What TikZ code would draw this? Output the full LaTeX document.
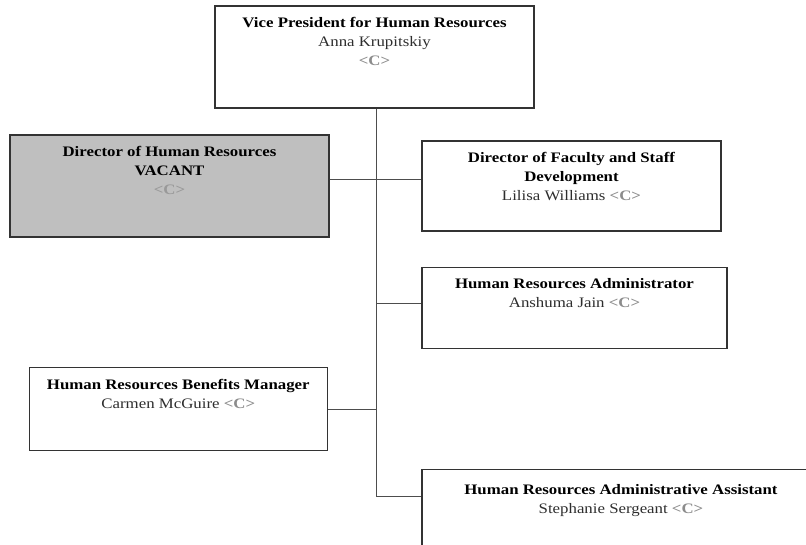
\documentclass[tikz,border=0pt]{standalone}
\usepackage{fontspec}
\setmainfont[FakeStretch=1.16]{Liberation Serif}
\usetikzlibrary{calc}

\definecolor{boxline}{HTML}{333333}
\definecolor{linkgray}{HTML}{4D4D4D}
\definecolor{vacantfill}{HTML}{BFBFBF}
\definecolor{codegray}{HTML}{8C8C8C}
\definecolor{codelight}{HTML}{999999}
\definecolor{namegray}{HTML}{2E2E2E}

\newcommand{\poscode}{\textcolor{codegray}{\textbf{<C>}}}
\newcommand{\personname}[1]{\textcolor{namegray}{#1}}

\tikzset{
  posbox/.style={draw=boxline, line width=1.4pt, fill=white, inner sep=0pt},
  vacantbox/.style={posbox, fill=vacantfill},
  postext/.style={anchor=north, inner sep=0pt, align=center,
                  font=\fontsize{14.5}{19}\selectfont},
  link/.style={draw=linkgray, line width=0.9pt},
}

\begin{document}
\begin{tikzpicture}[x=1pt, y=-1pt]
\useasboundingbox (0,0) rectangle (806,545);
\begin{scope}
\clip (0,0) rectangle (806,545);

% trunk and junction points
\coordinate (jtop)  at (376,108);
\coordinate (jdir)  at (376,179);
\coordinate (jadm)  at (376,303);
\coordinate (jben)  at (376,409);
\coordinate (jasst) at (376,496);

% connectors (drawn first, boxes cover their ends)
\path[link] (jtop) -- (jasst);

% position boxes
\node[posbox, minimum width=319pt, minimum height=102pt] (vp) at (374.5,57) {};
\node[vacantbox, minimum width=319pt, minimum height=102pt] (dhr) at (169.5,186) {};
\node[posbox, minimum width=299pt, minimum height=90pt] (dfs) at (571.5,186) {};
\node[posbox, minimum width=305pt, minimum height=81pt] (hra) at (574.5,307.8) {};
\node[posbox, minimum width=298pt, minimum height=83pt] (hrb) at (178.3,408.7) {};
\node[posbox, minimum width=398pt, minimum height=140pt] (hrs) at (621,539.5) {};

\path[link] (dhr.east |- jdir) -- (dfs.west |- jdir);
\path[link] (jadm) -- (hra.west |- jadm);
\path[link] (hrb.east |- jben) -- (jben);
\path[link] (jasst) -- (hrs.west |- jasst);

% texts
\node[postext] (vpt) at ($(vp.north)+(0,8.7)$)
  {\strut\textbf{Vice President for Human Resources}\\
   \personname{Anna Krupitskiy}\\ \poscode};
\node[postext] (dhrt) at ($(dhr.north)+(0,9.2)$)
  {\strut\textbf{Director of Human Resources}\\
   \textbf{VACANT}\\ \textcolor{codelight}{\textbf{<C>}}};
\node[postext] (dfst) at ($(dfs.north)+(0,8.7)$)
  {\strut\textbf{Director of Faculty and Staff}\\
   \textbf{Development}\\ \personname{Lilisa Williams} \poscode};
\node[postext] (hrat) at ($(hra.north)+(0,8.7)$)
  {\strut\textbf{Human Resources Administrator}\\
   \personname{Anshuma Jain} \poscode};
\node[postext] (hrbt) at ($(hrb.north)+(0,9.7)$)
  {\strut\textbf{Human Resources Benefits Manager}\\
   \personname{Carmen McGuire} \poscode};
\node[postext] (hrst) at ($(hrs.north)+(0,12.5)$)
  {\strut\textbf{Human Resources Administrative Assistant}\\
   \personname{Stephanie Sergeant} \poscode};
\end{scope}
\end{tikzpicture}
\end{document}
